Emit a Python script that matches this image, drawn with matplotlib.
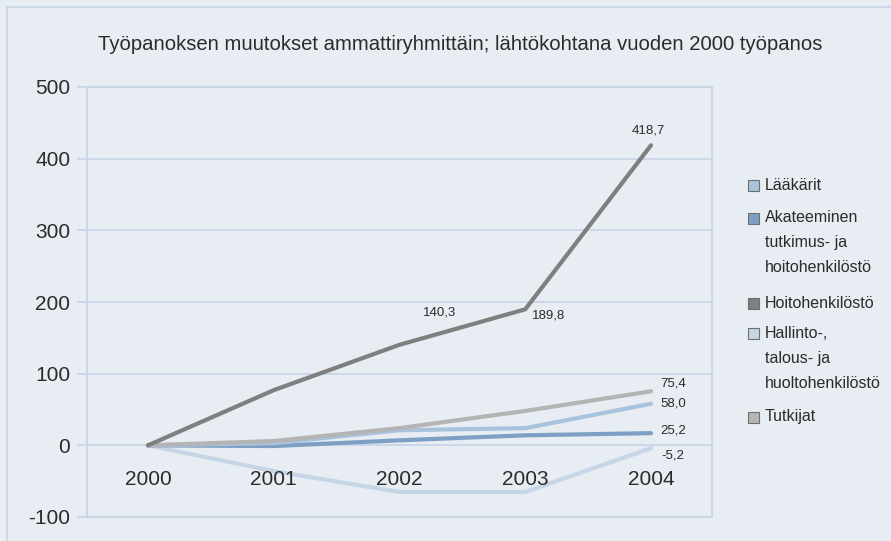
import matplotlib
matplotlib.use("Agg")
import matplotlib.pyplot as plt
from matplotlib.lines import Line2D
from matplotlib.patches import Rectangle

years = ["2000", "2001", "2002", "2003", "2004"]
series_names = [
    "Lääkärit",
    "Akateeminen\ntutkimus- ja\nhoitohenkilöstö",
    "Hoitohenkilöstö",
    "Hallinto-,\ntalous- ja\nhuoltohenkilöstö",
    "Tutkijat",
]
laakarit = [0, 3, 21, 24, 58.0]
akateeminen = [0, -1, 7, 14, 17]
hoito = [0, 77, 140.3, 189.8, 418.7]
hallinto = [0, -36, -65, -65, -4]
tutkijat = [0, 6, 24, 48, 75.4]
end_labels = {"Tutkijat": "75,4", "Lääkärit": "58,0", "Akateeminen": "25,2", "Hallinto": "-5,2"}
hoito_labels = {2: "140,3", 3: "189,8", 4: "418,7"}
yticks = [-100, 0, 100, 200, 300, 400, 500]
ytick_labels = ["-100", "0", "100", "200", "300", "400", "500"]

bg = "#e8ecf3"
grid_c = "#c7d5e6"
txt_c = "#2b2b2b"
colors = ["#a9c3dd", "#7d9fc4", "#7f7f7f", "#c6d6e7", "#b4b4b4"]

FONT = ["Liberation Sans Narrow", "Liberation Sans", "DejaVu Sans"]
plt.rcParams["font.family"] = FONT

fig = plt.figure(figsize=(8.91, 5.41), dpi=100, facecolor=bg)
W, H = 891, 541
ax = fig.add_axes([87 / W, 1 - 517 / H, (712 - 87) / W, (517 - 87) / H])
ax.set_facecolor(bg)

# outer frame
fig.add_artist(Line2D([7 / W, 7 / W], [0, 1 - 7 / H], color=grid_c, lw=1.2, transform=fig.transFigure))
fig.add_artist(Line2D([7 / W, 1], [1 - 7 / H, 1 - 7 / H], color=grid_c, lw=1.2, transform=fig.transFigure))

x = list(range(len(years)))
data = [laakarit, akateeminen, hoito, hallinto, tutkijat]
order = [3, 1, 0, 4, 2]  # drawing order
for z, i in enumerate(order):
    ax.plot(x, data[i], color=colors[i], lw=3.0, solid_capstyle="round", solid_joinstyle="round", zorder=3 + z)

ax.set_xlim(-0.485, 4.485)
ax.set_ylim(-100, 500)
ax.set_yticks(yticks)
ax.set_yticklabels(ytick_labels, fontsize=15, color=txt_c)
ax.set_xticks([])
ax.tick_params(axis="y", length=7, color=grid_c, width=1.2, pad=5)
for yv in yticks:
    ax.axhline(yv, color=grid_c, lw=1.2, zorder=1)
for s in ax.spines.values():
    s.set_color(grid_c)
    s.set_linewidth(1.2)

for i, lab in enumerate(years):
    ax.text(i, -47, lab, ha="center", va="center", fontsize=15, color=txt_c, zorder=10)

# data labels
lab_fs = 9.5
ax.annotate(hoito_labels[4], (4, hoito[4]), xytext=(-3, 9), textcoords="offset pixels",
            ha="center", va="bottom", fontsize=lab_fs, color=txt_c)
ax.annotate(hoito_labels[2], (2, hoito[2]), xytext=(40, 32), textcoords="offset pixels",
            ha="center", va="center", fontsize=lab_fs, color=txt_c)
ax.annotate(hoito_labels[3], (3, hoito[3]), xytext=(23, -6), textcoords="offset pixels",
            ha="center", va="center", fontsize=lab_fs, color=txt_c)
ax.annotate(end_labels["Tutkijat"], (4, tutkijat[4]), xytext=(9, 8), textcoords="offset pixels",
            ha="left", va="center", fontsize=lab_fs, color=txt_c)
ax.annotate(end_labels["Lääkärit"], (4, laakarit[4]), xytext=(9, 0), textcoords="offset pixels",
            ha="left", va="center", fontsize=lab_fs, color=txt_c)
ax.annotate(end_labels["Akateeminen"], (4, akateeminen[4]), xytext=(9, 3), textcoords="offset pixels",
            ha="left", va="center", fontsize=lab_fs, color=txt_c)
ax.annotate(end_labels["Hallinto"], (4, hallinto[4]), xytext=(10, -7), textcoords="offset pixels",
            ha="left", va="center", fontsize=lab_fs, color=txt_c)

# title
fig.text(460 / W, 1 - 45 / H, "Työpanoksen muutokset ammattiryhmittäin; lähtökohtana vuoden 2000 työpanos",
         ha="center", va="center", fontsize=14.6, color=txt_c)

# legend (manual)
leg_y = [185, 218, 303, 333, 417]
for name, col, yy in zip(series_names, colors, leg_y):
    fig.add_artist(Rectangle((748 / W, 1 - (yy + 6) / H), 11 / W, 11 / H, facecolor=col,
                             edgecolor="#6f6f6f", lw=0.8, transform=fig.transFigure))
    for k, line in enumerate(name.split("\n")):
        fig.text(765 / W, 1 - (yy + 25 * k) / H, line, ha="left", va="center", fontsize=11.5,
                 color=txt_c)

fig.savefig("out.png", dpi=100, facecolor=bg)
